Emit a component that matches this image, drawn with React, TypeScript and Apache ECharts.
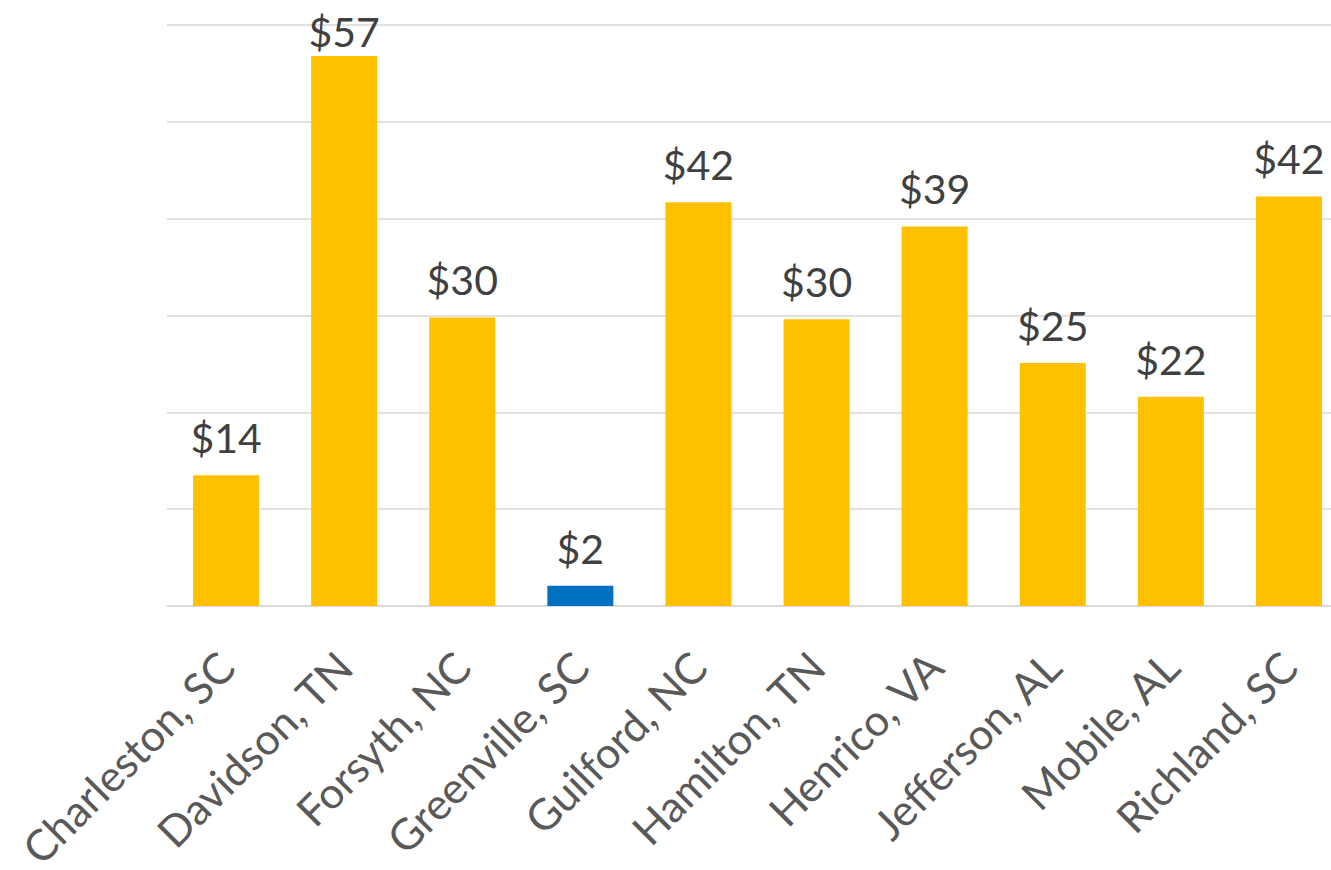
import React, { useEffect, useRef } from "react";
import * as echarts from "echarts";

const categories = [
  "Charleston, SC",
  "Davidson, TN",
  "Forsyth, NC",
  "Greenville, SC",
  "Guilford, NC",
  "Hamilton, TN",
  "Henrico, VA",
  "Jefferson, AL",
  "Mobile, AL",
  "Richland, SC",
];
const values = [13.5, 56.8, 29.8, 2.1, 41.7, 29.6, 39.2, 25.1, 21.6, 42.3];
const highlighted = ["Greenville, SC"];

const YELLOW = "#FFC000";
const BLUE = "#0070C0";
const AXIS_MAX = 60;

export default function App() {
  const ref = useRef<HTMLDivElement>(null);
  useEffect(() => {
    if (!ref.current) return;
    const chart = echarts.init(ref.current, null, { renderer: "svg" });
    chart.setOption({
      animation: false,
      backgroundColor: "#ffffff",
      grid: {
        left: 167,
        right: 0,
        top: 25,
        bottom: 264,
        containLabel: false,
        outerBoundsMode: "none",
      },
      xAxis: {
        type: "category",
        data: categories,
        axisLine: { show: true, lineStyle: { color: "#D9D9D9", width: 1.5 } },
        axisTick: { show: false },
        axisLabel: {
          rotate: 45,
          interval: 0,
          margin: 53,
          color: "#595959",
          fontFamily: "Lato",
          fontSize: 43,
        },
      },
      yAxis: {
        type: "value",
        min: 0,
        max: AXIS_MAX,
        interval: 10,
        axisLabel: { show: false },
        axisLine: { show: false },
        axisTick: { show: false },
        splitLine: { lineStyle: { color: "#D9D9D9", width: 1.5 } },
      },
      series: [
        {
          type: "bar",
          barWidth: 66,
          data: values.map((v, i) => ({
            value: v,
            itemStyle: { color: highlighted.includes(categories[i]) ? BLUE : YELLOW },
            label: { distance: v > AXIS_MAX - 5 ? 4 : 17 },
          })),
          label: {
            show: true,
            position: "top",
            color: "#404040",
            fontFamily: "Lato",
            fontSize: 41,
            formatter: (p: any) => "$" + Math.round(p.value),
          },
        },
      ],
    });
    return () => chart.dispose();
  }, []);
  return (
    <div style={{ position: "absolute", left: 0, top: 0, width: 1331, height: 870, overflow: "hidden" }}>
      <div ref={ref} style={{ width: 1348, height: 870 }} />
    </div>
  );
}
